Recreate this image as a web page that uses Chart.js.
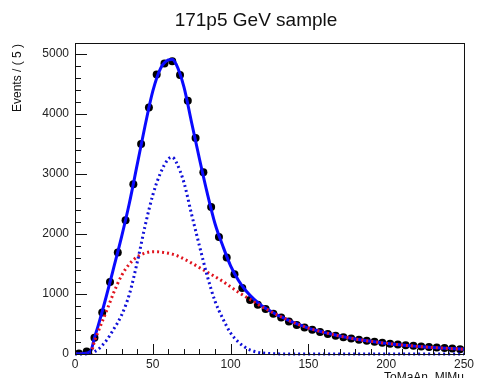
<!DOCTYPE html>
<html>
<head>
<meta charset="utf-8">
<script src="https://cdn.jsdelivr.net/npm/chart.js@4.4.1/dist/chart.umd.min.js"></script>
<style>
  html, body { margin: 0; padding: 0; background: #fff; }
  #c { display: block; }
</style>
</head>
<body>
<canvas id="c" width="477" height="378"></canvas>
<script>
// 히스토그램 데이터 (bin 폭 5, bin 중앙값)
const binCenters = [2.5, 7.5, 12.5, 17.5, 22.5, 27.5, 32.5, 37.5, 42.5, 47.5,
  52.5, 57.5, 62.5, 67.5, 72.5, 77.5, 82.5, 87.5, 92.5, 97.5,
  102.5, 107.5, 112.5, 117.5, 122.5, 127.5, 132.5, 137.5, 142.5, 147.5,
  152.5, 157.5, 162.5, 167.5, 172.5, 177.5, 182.5, 187.5, 192.5, 197.5,
  202.5, 207.5, 212.5, 217.5, 222.5, 227.5, 232.5, 237.5, 242.5, 247.5];
const binCounts = [10, 40, 270, 690, 1200, 1690, 2230, 2830, 3500, 4110,
  4660, 4840, 4880, 4650, 4220, 3600, 3030, 2450, 1950, 1610,
  1330, 1100, 900, 820, 750, 670, 610, 540, 485, 440,
  405, 365, 335, 305, 280, 258, 238, 220, 203, 186,
  172, 158, 146, 136, 124, 115, 107, 99, 90, 80];

// 피팅 곡선
const curveX = [0, 5, 10, 12.5, 15, 20, 25, 30, 35, 40, 45, 50, 55, 60, 62.5, 65,
  70, 75, 80, 85, 90, 95, 100, 105, 110, 115, 120, 125, 130, 135, 140, 145,
  150, 155, 160, 165, 170, 175, 180, 185, 190, 195, 200, 205, 210, 215, 220,
  225, 230, 235, 240, 245, 250];
const totalFit = [0, 8, 45, 270, 480, 950, 1450, 1960, 2520, 3160, 3800, 4380, 4760, 4900, 4910, 4830,
  4450, 3850, 3250, 2680, 2170, 1800, 1470, 1230, 1050, 915, 805, 725, 650, 590, 530, 480,
  430, 395, 360, 330, 300, 275, 250, 230, 212, 195, 178, 164, 150, 138, 127,
  117, 108, 100, 93, 86, 80];
const bkgFit = [0, 0, 10, 210, 380, 700, 1030, 1310, 1500, 1620, 1680, 1705, 1700, 1680, 1665, 1645,
  1585, 1515, 1440, 1365, 1290, 1210, 1120, 1030, 950, 870, 790, 720, 650, 590, 530, 480,
  430, 395, 360, 330, 300, 275, 250, 230, 212, 195, 178, 164, 150, 138, 127,
  117, 108, 100, 93, 86, 80];
const gausFit = [0, 0, 15, 40, 80, 220, 420, 650, 1000, 1530, 2130, 2650, 3020, 3250, 3280, 3200,
  2860, 2320, 1800, 1300, 880, 590, 350, 200, 100, 45, 18, 7, 3, 0, 0, 0,
  0, 0, 0, 0, 0, 0, 0, 0, 0, 0, 0, 0, 0, 0, 0,
  0, 0, 0, 0, 0, 0];

const xTicksMajor = [0, 50, 100, 150, 200, 250];
const yTicksMajor = [0, 1000, 2000, 3000, 4000, 5000];

const FONT = "'Liberation Sans', Arial, Helvetica, sans-serif";

function toPoints(xs, ys) {
  return xs.map((x, i) => ({ x: x, y: ys[i] }));
}

// ROOT 스타일 프레임, 안쪽 눈금, 제목
const rootFrame = {
  id: "rootFrame",
  afterDraw(chart) {
    const ctx = chart.ctx;
    const a = chart.chartArea;
    const xs = chart.scales.x;
    const ys = chart.scales.y;
    ctx.save();
    ctx.strokeStyle = "#111";
    ctx.lineWidth = 1;
    ctx.strokeRect(a.left + 0.5, a.top + 0.5, a.right - a.left, a.bottom - a.top);

    ctx.beginPath();
    for (let v = 0; v <= 250; v += 10) {
      const px = Math.round(xs.getPixelForValue(v)) + 0.5;
      const len = xTicksMajor.includes(v) ? 10 : 5;
      ctx.moveTo(px, a.bottom);
      ctx.lineTo(px, a.bottom - len);
    }
    for (let v = 0; v <= 5000; v += 200) {
      const py = Math.round(ys.getPixelForValue(v)) + 0.5;
      const len = yTicksMajor.includes(v) ? 12 : 6;
      ctx.moveTo(a.left, py);
      ctx.lineTo(a.left + len, py);
    }
    ctx.stroke();

    ctx.fillStyle = "#111";
    ctx.font = "19px " + FONT;
    ctx.textAlign = "center";
    ctx.textBaseline = "alphabetic";
    ctx.fillText("171p5 GeV sample", 256, 26);

    ctx.font = "12px " + FONT;
    ctx.textAlign = "right";
    ctx.fillText("ToMaAn_MlMu", a.right, 381);

    ctx.translate(18, 44);
    ctx.rotate(-Math.PI / 2);
    ctx.textAlign = "right";
    ctx.textBaseline = "middle";
    ctx.fillText("Events / ( 5 )", 0, 0);
    ctx.restore();
  },
};

const ctx = document.getElementById("c").getContext("2d");
new Chart(ctx, {
  type: "line",
  data: {
    datasets: [
      {
        label: "data",
        data: toPoints(binCenters, binCounts),
        showLine: false,
        pointRadius: 4,
        pointBackgroundColor: "#000",
        pointBorderColor: "#000",
        pointBorderWidth: 0,
        order: 4,
      },
      {
        label: "total",
        data: toPoints(curveX, totalFit),
        borderColor: "#0a0aff",
        borderWidth: 3,
        pointRadius: 0,
        cubicInterpolationMode: "monotone",
        fill: false,
        order: 3,
      },
      {
        label: "background",
        data: toPoints(curveX, bkgFit),
        borderColor: "#e0141e",
        borderWidth: 3,
        borderDash: [2, 3],
        pointRadius: 0,
        cubicInterpolationMode: "monotone",
        fill: false,
        order: 2,
      },
      {
        label: "signal",
        data: toPoints(curveX, gausFit),
        borderColor: "#1010d8",
        borderWidth: 3,
        borderDash: [2, 3],
        pointRadius: 0,
        cubicInterpolationMode: "monotone",
        fill: false,
        clip: 4,
        order: 1,
      },
    ],
  },
  options: {
    responsive: false,
    animation: false,
    layout: { padding: { top: 43, right: 10, left: 0, bottom: 0 } },
    scales: {
      x: {
        type: "linear",
        min: 0,
        max: 250,
        grid: { display: false, drawTicks: false },
        border: { display: false },
        ticks: {
          maxRotation: 0,
          padding: 3,
          color: "#222",
          font: { family: FONT, size: 12 },
          callback: (v) => String(v),
        },
        afterBuildTicks: (s) => { s.ticks = xTicksMajor.map((v) => ({ value: v })); },
        afterFit: (s) => { s.height = 24; },
      },
      y: {
        min: 0,
        max: 5183,
        grid: { display: false, drawTicks: false },
        border: { display: false },
        ticks: {
          padding: 6,
          color: "#222",
          font: { family: FONT, size: 12 },
          callback: (v) => String(v),
        },
        afterBuildTicks: (s) => { s.ticks = yTicksMajor.map((v) => ({ value: v })); },
        afterFit: (s) => { s.width = 75; },
      },
    },
    plugins: {
      legend: { display: false },
      tooltip: { enabled: false },
      title: { display: false },
    },
  },
  plugins: [rootFrame],
});
</script>
</body>
</html>
